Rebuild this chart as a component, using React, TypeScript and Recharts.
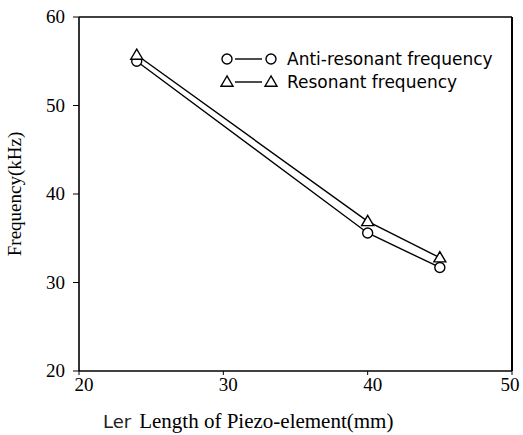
import { LineChart, Line, XAxis, YAxis, ReferenceLine } from "recharts";

const lengths = [24, 40, 45];
const antiResonant = [55.0, 35.6, 31.7];
const resonant = [55.7, 36.9, 32.8];

const xTicks = [20, 30, 40, 50];
const yTicks = [20, 30, 40, 50, 60];

const seriesNames = ["Anti-resonant frequency", "Resonant frequency"];

const data = lengths.map((len, i) => ({
  len,
  anti: antiResonant[i],
  res: resonant[i],
}));

const serif = "'Liberation Serif', 'DejaVu Serif', serif";
const sans = "'DejaVu Sans', sans-serif";

const CircleDot = (props: any) => {
  const { cx, cy } = props;
  if (cx == null || cy == null) return null;
  return <circle cx={cx} cy={cy} r={5} fill="#fff" stroke="#000" strokeWidth={1.4} />;
};

const TriangleDot = (props: any) => {
  const { cx, cy } = props;
  if (cx == null || cy == null) return null;
  const s = 6;
  return (
    <polygon
      points={`${cx},${cy - s} ${cx - s},${cy + s * 0.7} ${cx + s},${cy + s * 0.7}`}
      fill="#fff"
      stroke="#000"
      strokeWidth={1.4}
    />
  );
};

const LegendBox = () => (
  <svg width={290} height={50} style={{ display: "block" }}>
    {seriesNames.map((name, i) => {
      const y = 11 + i * 23;
      return (
        <g key={name}>
          {i === 0 ? <CircleDot cx={7} cy={y} /> : <TriangleDot cx={7} cy={y} />}
          <line x1={15} x2={42} y1={y} y2={y} stroke="#000" strokeWidth={1.4} />
          {i === 0 ? <CircleDot cx={51} cy={y} /> : <TriangleDot cx={51} cy={y} />}
          <text x={67} y={y + 6} style={{ fontFamily: sans, fontSize: 17 }} fill="#000">
            {name}
          </text>
        </g>
      );
    })}
  </svg>
);

const XTick = (props: any) => {
  const { x, y, payload } = props;
  return (
    <text
      x={Math.min(x + 5, 510)}
      y={y + 14}
      textAnchor="middle"
      style={{ fontFamily: serif, fontSize: 19 }}
      fill="#000"
    >
      {payload.value}
    </text>
  );
};

const YTick = (props: any) => {
  const { x, y, payload } = props;
  return (
    <text x={x - 6} y={y + 6} textAnchor="end" style={{ fontFamily: serif, fontSize: 19 }} fill="#000">
      {payload.value}
    </text>
  );
};

const XLabel = (props: any) => {
  const { viewBox } = props;
  const x = viewBox.x + 24;
  const y = viewBox.y + 57;
  return (
    <text x={x} y={y} fill="#000">
      <tspan style={{ fontFamily: sans, fontSize: 18 }} fill="#222">Ler</tspan>
      <tspan style={{ fontFamily: serif, fontSize: 21 }} dx={8}>Length of Piezo-element(mm)</tspan>
    </text>
  );
};

export default function App() {
  return (
    <div style={{ position: "absolute", left: 0, top: 0, background: "#fff" }}>
      <LineChart
        width={523}
        height={435}
        data={data}
        margin={{ top: 17, right: 11, bottom: 34, left: 39 }}
      >
        <XAxis
          dataKey="len"
          type="number"
          domain={[20, 50]}
          ticks={xTicks}
          height={30}
          axisLine={{ stroke: "#000", strokeWidth: 1.6 }}
          tickLine={{ stroke: "#000" }}
          tickSize={4}
          tick={<XTick />}
          label={<XLabel />}
        />
        <YAxis
          type="number"
          domain={[20, 60]}
          ticks={yTicks}
          width={40}
          axisLine={{ stroke: "#000", strokeWidth: 1.6 }}
          tickLine={{ stroke: "#000" }}
          tickSize={6}
          tick={<YTick />}
          label={{
            value: "Frequency(kHz)",
            angle: -90,
            position: "insideLeft",
            dx: -30,
            style: { fill: "#000", fontFamily: serif, fontSize: 19, textAnchor: "middle" },
          }}
        />
        <ReferenceLine y={60} stroke="#000" strokeWidth={1.6} />
        <ReferenceLine x={50} stroke="#000" strokeWidth={2} />
        <Line
          dataKey="anti"
          name={seriesNames[0]}
          stroke="#000"
          strokeWidth={1.4}
          dot={<CircleDot />}
          isAnimationActive={false}
        />
        <Line
          dataKey="res"
          name={seriesNames[1]}
          stroke="#000"
          strokeWidth={1.4}
          dot={<TriangleDot />}
          isAnimationActive={false}
        />
      </LineChart>
      <div style={{ position: "absolute", left: 220, top: 48 }}>
        <LegendBox />
      </div>
    </div>
  );
}
